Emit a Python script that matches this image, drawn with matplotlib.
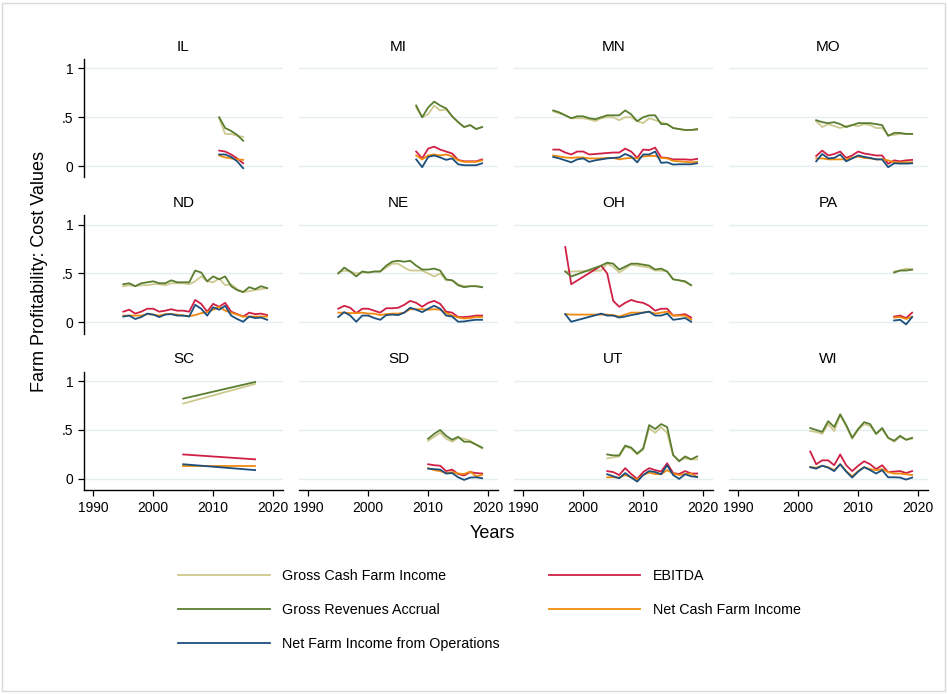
import matplotlib
matplotlib.use("Agg")
import matplotlib.pyplot as plt
from matplotlib.patches import Rectangle

plt.rcParams['font.family'] = ['Liberation Sans', 'DejaVu Sans']

# profitability ratios, one set of lists per state
IL_years = list(range(2011, 2016))
IL_gcfi = [0.49, 0.33, 0.33, 0.31, 0.30]
IL_gra = [0.50, 0.39, 0.36, 0.32, 0.26]
IL_ebitda = [0.16, 0.15, 0.12, 0.08, 0.03]
IL_ncfi = [0.11, 0.09, 0.08, 0.07, 0.065]
IL_nfio = [0.12, 0.12, 0.095, 0.05, -0.02]

MI_years = list(range(2008, 2020))
MI_gcfi = [0.60, 0.50, 0.53, 0.62, 0.57, 0.58, 0.51, 0.45, 0.40, 0.42, 0.38, 0.40]
MI_gra = [0.62, 0.50, 0.60, 0.66, 0.62, 0.59, 0.51, 0.45, 0.40, 0.42, 0.38, 0.40]
MI_ebitda = [0.15, 0.08, 0.18, 0.20, 0.17, 0.15, 0.13, 0.065, 0.05, 0.05, 0.05, 0.07]
MI_ncfi = [0.11, 0.07, 0.11, 0.12, 0.11, 0.12, 0.10, 0.06, 0.045, 0.045, 0.045, 0.06]
MI_nfio = [0.07, -0.01, 0.095, 0.11, 0.09, 0.065, 0.08, 0.02, 0.01, 0.01, 0.01, 0.03]

MN_years = list(range(1995, 2020))
MN_gcfi = [0.56, 0.54, 0.52, 0.49, 0.49, 0.49, 0.48, 0.46, 0.49, 0.50, 0.50, 0.47, 0.50,
           0.50, 0.46, 0.44, 0.49, 0.47, 0.45, 0.43, 0.39, 0.38, 0.37, 0.37, 0.37]
MN_gra = [0.57, 0.55, 0.52, 0.49, 0.51, 0.51, 0.49, 0.48, 0.50, 0.52, 0.52, 0.52, 0.57,
          0.53, 0.46, 0.50, 0.52, 0.52, 0.43, 0.43, 0.39, 0.38, 0.37, 0.37, 0.38]
MN_ebitda = [0.17, 0.17, 0.14, 0.12, 0.15, 0.15, 0.12, 0.125, 0.13, 0.135, 0.14, 0.14, 0.18,
             0.15, 0.085, 0.17, 0.165, 0.19, 0.09, 0.085, 0.07, 0.07, 0.07, 0.065, 0.075]
MN_ncfi = [0.11, 0.10, 0.09, 0.085, 0.09, 0.09, 0.08, 0.08, 0.08, 0.085, 0.085, 0.07, 0.08,
           0.085, 0.08, 0.10, 0.105, 0.105, 0.085, 0.08, 0.055, 0.05, 0.045, 0.04, 0.045]
MN_nfio = [0.095, 0.08, 0.06, 0.04, 0.07, 0.08, 0.045, 0.06, 0.07, 0.08, 0.085, 0.09, 0.125,
           0.10, 0.04, 0.12, 0.12, 0.15, 0.035, 0.04, 0.017, 0.02, 0.02, 0.02, 0.03]

MO_years = list(range(2003, 2020))
MO_gcfi = [0.46, 0.40, 0.43, 0.41, 0.39, 0.41, 0.42, 0.41, 0.43, 0.42, 0.39, 0.39, 0.32,
           0.32, 0.33, 0.33, 0.33]
MO_gra = [0.47, 0.45, 0.44, 0.45, 0.43, 0.40, 0.42, 0.44, 0.44, 0.44, 0.43, 0.42, 0.31,
          0.34, 0.34, 0.33, 0.33]
MO_ebitda = [0.105, 0.16, 0.11, 0.125, 0.15, 0.085, 0.11, 0.15, 0.13, 0.12, 0.11, 0.11, 0.025,
             0.06, 0.05, 0.06, 0.065]
MO_ncfi = [0.08, 0.08, 0.07, 0.07, 0.07, 0.07, 0.085, 0.10, 0.085, 0.08, 0.07, 0.07, 0.06,
           0.04, 0.04, 0.04, 0.04]
MO_nfio = [0.05, 0.125, 0.08, 0.085, 0.12, 0.05, 0.08, 0.11, 0.095, 0.085, 0.07, 0.07, -0.01,
           0.03, 0.027, 0.027, 0.03]

ND_years = list(range(1995, 2020))
ND_gcfi = [0.37, 0.38, 0.37, 0.38, 0.38, 0.39, 0.39, 0.38, 0.40, 0.40, 0.40, 0.39, 0.42,
           0.47, 0.42, 0.41, 0.45, 0.38, 0.39, 0.34, 0.31, 0.32, 0.33, 0.34, 0.35]
ND_gra = [0.39, 0.40, 0.37, 0.40, 0.41, 0.42, 0.40, 0.40, 0.43, 0.41, 0.41, 0.41, 0.53,
          0.51, 0.42, 0.47, 0.44, 0.47, 0.37, 0.33, 0.31, 0.36, 0.34, 0.37, 0.35]
ND_ebitda = [0.11, 0.13, 0.09, 0.11, 0.14, 0.14, 0.11, 0.12, 0.135, 0.12, 0.12, 0.11, 0.23,
             0.19, 0.11, 0.19, 0.16, 0.20, 0.11, 0.085, 0.06, 0.10, 0.085, 0.09, 0.075]
ND_ncfi = [0.07, 0.07, 0.07, 0.07, 0.085, 0.08, 0.07, 0.085, 0.085, 0.08, 0.07, 0.065, 0.075,
           0.095, 0.105, 0.13, 0.16, 0.12, 0.10, 0.08, 0.06, 0.06, 0.06, 0.06, 0.06]
ND_nfio = [0.06, 0.07, 0.035, 0.055, 0.09, 0.08, 0.055, 0.08, 0.085, 0.07, 0.07, 0.06, 0.18,
           0.14, 0.07, 0.155, 0.13, 0.17, 0.07, 0.035, 0.007, 0.06, 0.045, 0.05, 0.027]

NE_years = list(range(1995, 2020))
NE_gcfi = [0.51, 0.53, 0.52, 0.50, 0.51, 0.51, 0.52, 0.52, 0.56, 0.60, 0.60, 0.56, 0.53,
           0.53, 0.53, 0.50, 0.47, 0.50, 0.43, 0.43, 0.39, 0.37, 0.37, 0.37, 0.36]
NE_gra = [0.50, 0.56, 0.52, 0.47, 0.52, 0.51, 0.52, 0.52, 0.58, 0.62, 0.63, 0.62, 0.63,
          0.58, 0.54, 0.54, 0.55, 0.53, 0.44, 0.43, 0.38, 0.36, 0.37, 0.37, 0.36]
NE_ebitda = [0.14, 0.17, 0.15, 0.095, 0.14, 0.14, 0.12, 0.10, 0.145, 0.145, 0.15, 0.18, 0.22,
             0.20, 0.16, 0.20, 0.22, 0.19, 0.11, 0.10, 0.055, 0.055, 0.06, 0.07, 0.07]
NE_ncfi = [0.10, 0.10, 0.095, 0.095, 0.10, 0.09, 0.09, 0.075, 0.085, 0.09, 0.09, 0.10, 0.135,
           0.135, 0.135, 0.13, 0.135, 0.13, 0.095, 0.07, 0.05, 0.04, 0.045, 0.055, 0.055]
NE_nfio = [0.055, 0.105, 0.07, 0.007, 0.07, 0.07, 0.045, 0.027, 0.075, 0.08, 0.075, 0.10, 0.15,
           0.13, 0.105, 0.14, 0.17, 0.14, 0.07, 0.06, 0.007, 0.01, 0.02, 0.027, 0.027]

# OH has no data for 1999-2002
OH_years = [1997, 1998] + list(range(2003, 2019))
OH_gcfi = [0.52, 0.52, 0.53, 0.60, 0.57, 0.51, 0.55, 0.59, 0.58, 0.57, 0.56, 0.53, 0.53,
           0.52, 0.44, 0.43, 0.41, 0.38]
OH_gra = [0.52, 0.47, 0.58, 0.61, 0.60, 0.54, 0.57, 0.60, 0.60, 0.59, 0.58, 0.54, 0.55,
          0.52, 0.44, 0.43, 0.42, 0.38]
OH_ebitda = [0.77, 0.39, 0.58, 0.50, 0.22, 0.16, 0.20, 0.23, 0.21, 0.20, 0.17, 0.12, 0.14,
             0.14, 0.07, 0.075, 0.085, 0.05]
OH_ncfi = [0.085, 0.08, 0.08, 0.08, 0.075, 0.06, 0.08, 0.10, 0.10, 0.10, 0.11, 0.09, 0.10,
           0.11, 0.07, 0.07, 0.07, 0.03]
OH_nfio = [0.085, 0.007, 0.09, 0.07, 0.07, 0.05, 0.06, 0.075, 0.085, 0.10, 0.11, 0.07, 0.07,
           0.09, 0.027, 0.035, 0.045, 0.007]

PA_years = list(range(2016, 2020))
PA_gcfi = [0.52, 0.53, 0.55, 0.54]
PA_gra = [0.51, 0.53, 0.53, 0.54]
PA_ebitda = [0.06, 0.07, 0.045, 0.10]
PA_ncfi = [0.05, 0.055, 0.035, 0.06]
PA_nfio = [0.02, 0.027, -0.02, 0.055]

SC_years = [2005, 2017]
SC_gcfi = [0.77, 0.97]
SC_gra = [0.82, 0.99]
SC_ebitda = [0.25, 0.20]
SC_ncfi = [0.135, 0.135]
SC_nfio = [0.15, 0.09]

SD_years = list(range(2010, 2020))
SD_gcfi = [0.39, 0.43, 0.47, 0.41, 0.38, 0.42, 0.41, 0.39, 0.35, 0.31]
SD_gra = [0.41, 0.46, 0.50, 0.44, 0.40, 0.43, 0.38, 0.38, 0.35, 0.32]
SD_ebitda = [0.15, 0.14, 0.135, 0.08, 0.095, 0.05, 0.035, 0.07, 0.06, 0.055]
SD_ncfi = [0.11, 0.09, 0.08, 0.06, 0.07, 0.055, 0.05, 0.075, 0.027, 0.04]
SD_nfio = [0.105, 0.10, 0.095, 0.055, 0.06, 0.017, -0.01, 0.014, 0.017, 0.007]

UT_years = list(range(2004, 2020))
UT_gcfi = [0.21, 0.22, 0.23, 0.33, 0.31, 0.25, 0.30, 0.52, 0.47, 0.53, 0.47, 0.24, 0.19,
           0.21, 0.20, 0.20]
UT_gra = [0.25, 0.24, 0.24, 0.34, 0.32, 0.26, 0.31, 0.55, 0.51, 0.56, 0.53, 0.245, 0.18,
          0.23, 0.20, 0.23]
UT_ebitda = [0.08, 0.07, 0.04, 0.11, 0.05, 0.00, 0.07, 0.11, 0.09, 0.075, 0.16, 0.06, 0.05,
             0.08, 0.055, 0.055]
UT_ncfi = [0.017, 0.017, 0.014, 0.04, 0.017, -0.007, 0.04, 0.065, 0.05, 0.048, 0.09, 0.055,
           0.04, 0.05, 0.055, 0.02]
UT_nfio = [0.048, 0.027, 0.007, 0.06, 0.014, -0.027, 0.04, 0.08, 0.07, 0.048, 0.14, 0.04,
           0.0, 0.048, 0.027, 0.02]

WI_years = list(range(2002, 2020))
WI_gcfi = [0.49, 0.48, 0.46, 0.56, 0.49, 0.65, 0.54, 0.41, 0.50, 0.56, 0.54, 0.46, 0.51,
           0.42, 0.38, 0.43, 0.40, 0.41]
WI_gra = [0.52, 0.50, 0.48, 0.59, 0.53, 0.66, 0.55, 0.42, 0.51, 0.58, 0.56, 0.46, 0.52,
          0.42, 0.39, 0.44, 0.40, 0.42]
WI_ebitda = [0.28, 0.15, 0.19, 0.19, 0.14, 0.25, 0.14, 0.08, 0.135, 0.18, 0.15, 0.10, 0.14,
             0.07, 0.075, 0.08, 0.06, 0.08]
WI_ncfi = [0.12, 0.115, 0.135, 0.12, 0.09, 0.15, 0.08, 0.027, 0.08, 0.12, 0.10, 0.09, 0.10,
           0.07, 0.055, 0.055, 0.048, 0.04]
WI_nfio = [0.12, 0.105, 0.135, 0.115, 0.08, 0.15, 0.075, 0.014, 0.075, 0.12, 0.09, 0.055,
           0.09, 0.017, 0.017, 0.014, -0.007, 0.014]

states = ['IL', 'MI', 'MN', 'MO', 'ND', 'NE', 'OH', 'PA', 'SC', 'SD', 'UT', 'WI']

# series: (suffix, legend label, colour) in drawing order
series = [
    ('gcfi', 'Gross Cash Farm Income', '#cdc98f'),
    ('ebitda', 'EBITDA', '#d01f45'),
    ('gra', 'Gross Revenues Accrual', '#5b7d30'),
    ('ncfi', 'Net Cash Farm Income', '#f08a0c'),
    ('nfio', 'Net Farm Income from Operations', '#1c4f7c'),
]

W, H = 948, 694
fig = plt.figure(figsize=(W / 100, H / 100), dpi=100)
fig.patch.set_facecolor('white')

col_left = [84.3, 299.3, 514.3, 729.3]
row_top = [59.0, 215.2, 371.7]
ax_w, ax_h = 198.4, 118.3
grid_col = '#e4eef0'

handles = {}
for i, st in enumerate(states):
    r, c = divmod(i, 4)
    ax = fig.add_axes([col_left[c] / W, 1 - (row_top[r] + ax_h) / H, ax_w / W, ax_h / H])
    ax.set_xlim(1988.5, 2021.6)
    ax.set_ylim(-0.113, 1.095)
    for v in [0, 0.5, 1]:
        ax.axhline(v, color=grid_col, lw=1.0, zorder=0)
    yrs = globals()[st + '_years']
    for key, label, col in series:
        ln, = ax.plot(yrs, globals()[st + '_' + key], color=col, lw=1.3, label=label)
        handles[key] = ln
    ax.set_title(st, fontsize=11, pad=6)
    for sp in ['top', 'right']:
        ax.spines[sp].set_visible(False)
    ax.spines['left'].set_visible(c == 0)
    ax.spines['bottom'].set_visible(r == 2)
    ax.spines['left'].set_linewidth(1.0)
    ax.spines['bottom'].set_linewidth(1.0)
    ax.set_yticks([0, 0.5, 1])
    ax.set_yticklabels(['0', '.5', '1'])
    ax.set_xticks([1990, 2000, 2010, 2020])
    ax.tick_params(axis='both', labelsize=10, length=4, width=0.9, pad=4)
    if c != 0:
        ax.tick_params(axis='y', left=False, labelleft=False)
    if r != 2:
        ax.tick_params(axis='x', bottom=False, labelbottom=False)

fig.text(40 / W, 1 - 272 / H, 'Farm Profitability: Cost Values', rotation=90,
         ha='center', va='center', fontsize=13)
fig.text(492 / W, 1 - 534 / H, 'Years', ha='center', va='center', fontsize=13)

order = ['gcfi', 'gra', 'nfio', 'ebitda', 'ncfi']
labels = dict((s[0], s[1]) for s in series)
fig.legend([handles[k] for k in order], [labels[k] for k in order],
           ncol=2, loc='upper left', bbox_to_anchor=(178 / W, 1 - 569 / H),
           frameon=False, fontsize=10.3, handlelength=6.4, handletextpad=0.9,
           columnspacing=3.4, labelspacing=1.4, borderpad=0, borderaxespad=0)

fig.add_artist(Rectangle((2 / W, 3 / H), (W - 5) / W, (H - 6) / H, transform=fig.transFigure,
                         fill=False, edgecolor='#d9d9d9', lw=1.0))

fig.savefig('out.png', dpi=100, facecolor='white')
